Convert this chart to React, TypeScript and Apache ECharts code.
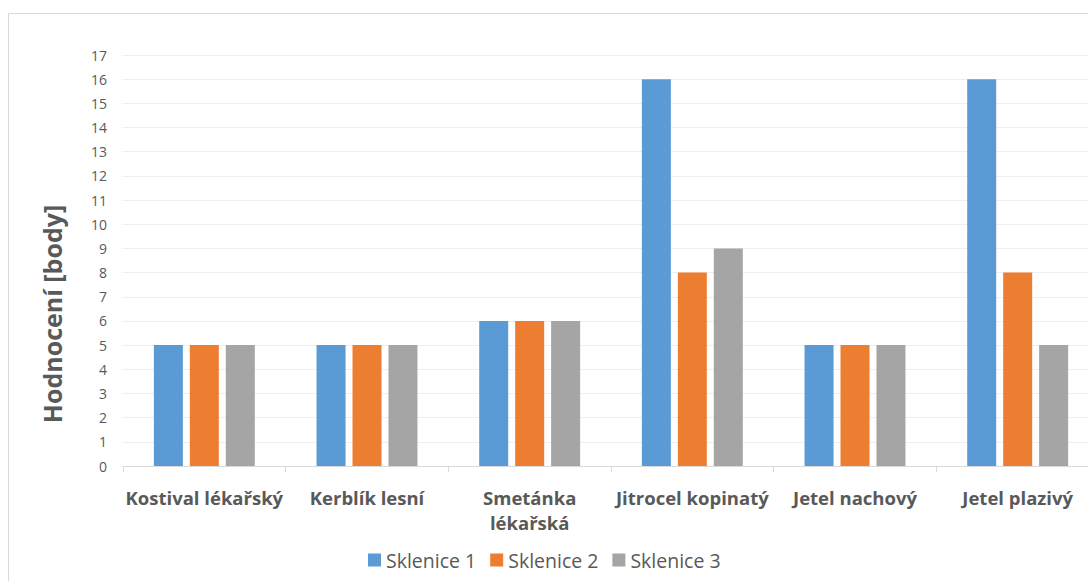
import React, { useEffect, useRef } from "react";
import * as echarts from "echarts";

const categories = ["Kostival lékařský", "Kerblík lesní", "Smetánka\nlékařská", "Jitrocel kopinatý", "Jetel nachový", "Jetel plazivý"];
const sklenice1 = [5, 5, 6, 16, 5, 16];
const sklenice2 = [5, 5, 6, 8, 5, 8];
const sklenice3 = [5, 5, 6, 9, 5, 5];
const seriesNames = ["Sklenice 1", "Sklenice 2", "Sklenice 3"];
const colors = ["#5B9BD5", "#ED7D31", "#A5A5A5"];

const FONT = "'Open Sans', 'Noto Sans', sans-serif";
const CHART_W = 1120;

export default function App() {
  const ref = useRef<HTMLDivElement>(null);
  useEffect(() => {
    if (!ref.current) return;
    const chart = echarts.init(ref.current, null, { renderer: "svg" });
    const data = [sklenice1, sklenice2, sklenice3];
    chart.setOption({
      animation: false,
      backgroundColor: "#ffffff",
      grid: { left: 123, right: CHART_W - 1099, top: 55, bottom: 115, containLabel: false },
      legend: {
        data: seriesNames,
        bottom: 6,
        left: 363,
        itemWidth: 13,
        itemHeight: 13,
        itemGap: 14,
        icon: "rect",
        textStyle: { fontFamily: FONT, fontSize: 19.5, color: "#595959" },
      },
      xAxis: {
        type: "category",
        data: categories,
        axisLine: { lineStyle: { color: "#d9d9d9" } },
        axisTick: { show: true, length: 6, lineStyle: { color: "#d9d9d9" } },
        axisLabel: {
          fontFamily: FONT,
          fontSize: 18.5,
          fontWeight: "bold",
          color: "#595959",
          margin: 19,
          lineHeight: 25,
          interval: 0,
        },
      },
      yAxis: {
        type: "value",
        min: 0,
        max: 17,
        interval: 1,
        axisLine: { show: false },
        axisTick: { show: false },
        splitLine: { lineStyle: { color: "#eeeeee" } },
        axisLabel: { fontFamily: FONT, fontSize: 14, color: "#595959", margin: 16 },
      },
      graphic: [
        {
          type: "rect",
          shape: { x: 8.5, y: 13.5, width: 1200, height: 700 },
          style: { fill: "none", stroke: "#d9d9d9", lineWidth: 1 },
          silent: true,
          z: -10,
        },
        {
          type: "text",
          x: 52,
          y: 314,
          rotation: Math.PI / 2,
          style: {
            text: "Hodnocení [body]",
            fontFamily: FONT,
            fontSize: 25,
            fontWeight: "bold",
            fill: "#595959",
            align: "center",
            verticalAlign: "middle",
          },
        },
      ],
      series: seriesNames.map((name, i) => ({
        name,
        type: "bar",
        data: data[i],
        barWidth: 29,
        barGap: "24%",
        itemStyle: { color: colors[i] },
      })),
    });
    return () => chart.dispose();
  }, []);
  return (
    <div style={{ position: "absolute", left: 0, top: 0, width: 1088, height: 581, overflow: "hidden", background: "#fff" }}>
      <div ref={ref} style={{ width: CHART_W, height: 581 }} />
    </div>
  );
}
